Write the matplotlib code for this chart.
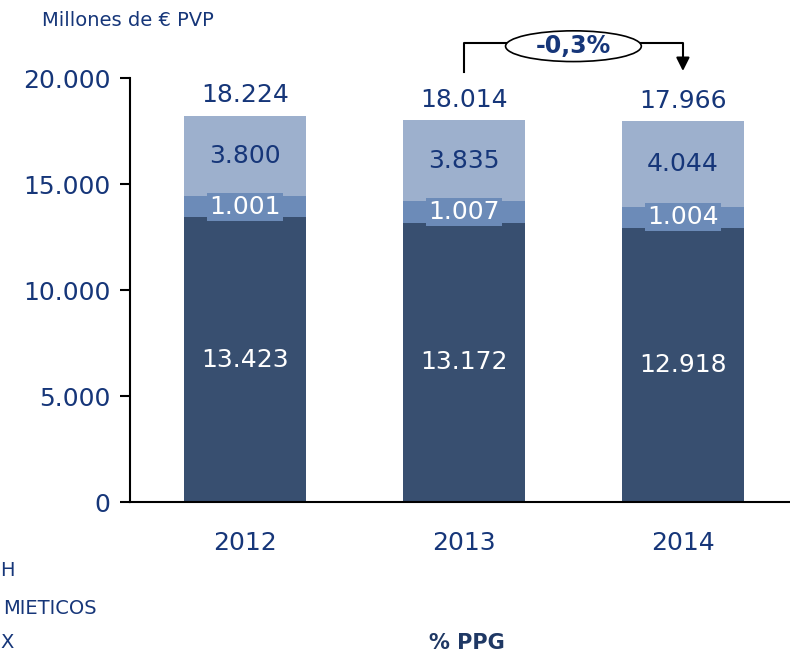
import matplotlib.pyplot as plt
from matplotlib.patches import Ellipse
import numpy as np

# Datos (millones de € PVP)
years = ['2012', '2013', '2014']
base = [13423, 13172, 12918]
mid = [1001, 1007, 1004]
top = [3800, 3835, 4044]
totals = [18224, 18014, 17966]
change_label = '-0,3%'
legend_tails = ['H', 'MIETICOS', 'X']

c_dark = '#384F70'
c_mid = '#6C8BB8'
c_light = '#9DB0CD'
navy = '#163679'

def fmt(v):
    return f'{v:,}'.replace(',', '.')

fig = plt.figure(figsize=(7.9, 6.54), dpi=100)
ax = fig.add_axes([130 / 790, 152 / 654, 660 / 790, 424 / 654])

x = np.arange(len(years))
w = 0.56
b1 = np.array(base)
b2 = b1 + np.array(mid)
ax.bar(x, base, w, color=c_dark)
ax.bar(x, mid, w, bottom=b1, color=c_mid)
ax.bar(x, top, w, bottom=b2, color=c_light)

fs = 18
for i in range(len(years)):
    ax.text(x[i], base[i] / 2, fmt(base[i]), ha='center', va='center',
            color='white', fontsize=fs)
    ax.text(x[i], b1[i] + mid[i] / 2, fmt(mid[i]), ha='center', va='center',
            color='white', fontsize=fs,
            bbox=dict(boxstyle='square,pad=0.08', fc=c_mid, ec='none'))
    ax.text(x[i], b2[i] + top[i] / 2, fmt(top[i]), ha='center', va='center',
            color=navy, fontsize=fs)
    ax.text(x[i], totals[i] + 400, fmt(totals[i]), ha='center', va='bottom',
            color=navy, fontsize=fs)

ax.set_ylim(0, 20000)
ax.set_xlim(-0.525, 2.489)
ax.set_yticks(range(0, 20001, 5000))
ax.set_yticklabels([fmt(v) for v in range(0, 20001, 5000)])
ax.set_xticks(x)
ax.set_xticklabels(years)
ax.tick_params(axis='y', length=7, width=1.5, colors='black', labelcolor=navy,
               labelsize=fs, pad=7)
ax.tick_params(axis='x', length=0, labelcolor=navy, labelsize=fs, pad=21)
for s in ['top', 'right']:
    ax.spines[s].set_visible(False)
for s in ['left', 'bottom']:
    ax.spines[s].set_linewidth(1.5)

# Flecha de variación
y_line = 21650
ax.plot([1, 1, 2, 2], [20280, y_line, y_line, 20600], color='black', lw=1.5,
        clip_on=False)
ax.annotate('', xy=(2, 20200), xytext=(2, 20750),
            arrowprops=dict(arrowstyle='-|>', color='black', lw=1.5,
                            mutation_scale=20), annotation_clip=False)
ell = Ellipse((1.5, y_line - 150), 0.62, 1450, fc='white', ec='black', lw=1.2,
              clip_on=False, zorder=5)
ax.add_patch(ell)
ax.text(1.5, y_line - 150, change_label, ha='center', va='center', fontsize=17,
        fontweight='bold', color=navy, zorder=6)

fig.text(42 / 790, 1 - 20 / 654, 'Millones de € PVP', ha='left', va='center',
         fontsize=14, color=navy)

# restos de la leyenda cortada a la izquierda
fig.text(0, 1 - 571 / 654, legend_tails[0], ha='left', va='center',
         fontsize=14, color=navy)
fig.text(97 / 790, 1 - 608 / 654, legend_tails[1], ha='right', va='center',
         fontsize=14, color=navy)
fig.text(0, 1 - 643 / 654, legend_tails[2], ha='left', va='center',
         fontsize=14, color=navy)

fig.text(467 / 790, 1 - 643 / 654, '% PPG', ha='center', va='center',
         fontsize=15, fontweight='bold', color='#1F3864')

fig.savefig('out.png', dpi=100)
